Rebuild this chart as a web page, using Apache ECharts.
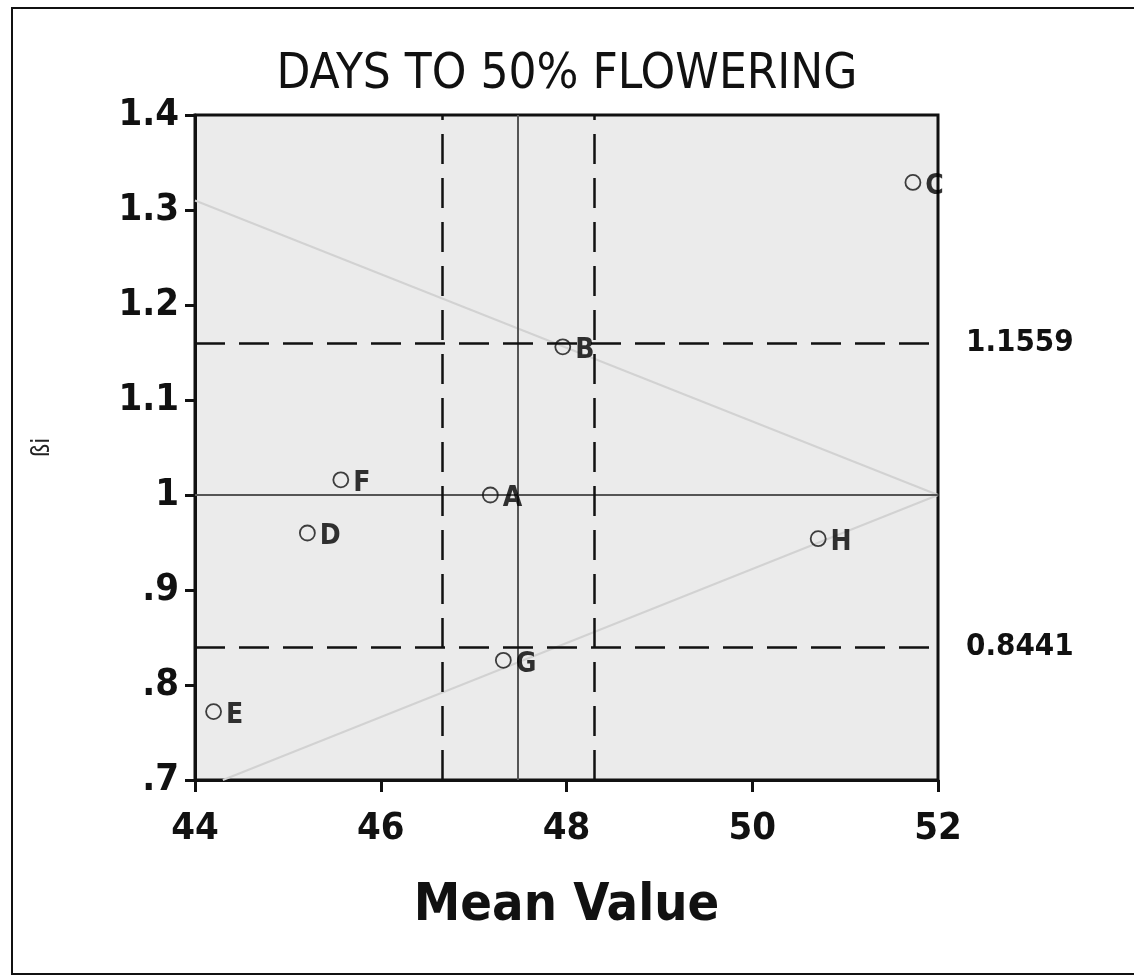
<!DOCTYPE html>
<html>
<head>
<meta charset="utf-8">
<script src="https://cdn.jsdelivr.net/npm/echarts@6/dist/echarts.min.js"></script>
<style>
  html, body { margin: 0; padding: 0; background: #fff; }
  #chart { width: 1134px; height: 978px; }
</style>
</head>
<body>
<div id="chart"></div>
<script>
// genotypes: mean value vs regression coefficient
var genotypes = ['A', 'B', 'C', 'D', 'E', 'F', 'G', 'H']
var meanValues = [47.18, 47.96, 51.73, 45.21, 44.2, 45.57, 47.32, 50.71]
var betaValues = [1.0, 1.156, 1.329, 0.96, 0.772, 1.016, 0.826, 0.954]

// reference lines
var betaLimits = [1.1559, 0.8441]
var betaMean = 1
var meanLimits = [46.66, 48.3]
var grandMean = 47.48

// faint lines seen in the background
var fadeLineA = [[44, 1.31], [52, 1.0]]
var fadeLineB = [[44.3, 0.7], [52, 1.0]]

var xTicks = [44, 46, 48, 50, 52]

var narrow = '"Liberation Sans Narrow", "DejaVu Sans Condensed", Arial, sans-serif'

var chart = echarts.init(document.getElementById('chart'))

function yLabel(v) {
  var r = Math.round(v * 10) / 10
  if (r === 1) return '1'
  if (r < 1) return '.' + Math.round(r * 10)
  return r.toFixed(1)
}

var dashStyle = { color: '#111', width: 2.5, type: [30, 14] }
var solidStyle = { color: '#555', width: 2, type: 'solid' }

var limitLabel = {
  show: true,
  position: 'end',
  distance: 28,
  fontFamily: narrow,
  fontSize: 31,
  fontWeight: 'bold',
  color: '#111'
}

chart.setOption({
  backgroundColor: '#fff',
  animation: false,
  title: {
    text: 'DAYS TO 50% FLOWERING',
    left: 'center',
    top: 46,
    textStyle: {
      fontFamily: narrow,
      fontSize: 49,
      fontWeight: 'normal',
      color: '#111'
    }
  },
  graphic: [{
    type: 'rect',
    shape: { x: 12, y: 8, width: 1140, height: 966 },
    style: { fill: null, stroke: '#111', lineWidth: 2 },
    silent: true
  }],
  grid: {
    left: 195,
    right: 196,
    top: 115,
    bottom: 198,
    show: true,
    backgroundColor: '#ebebeb',
    borderColor: '#111',
    borderWidth: 3
  },
  xAxis: {
    type: 'value',
    min: 44,
    max: 52,
    interval: 2,
    name: 'Mean Value',
    nameLocation: 'middle',
    nameGap: 100,
    nameTextStyle: {
      fontFamily: narrow,
      fontSize: 52,
      fontWeight: 'bold',
      color: '#111'
    },
    axisLine: { lineStyle: { color: '#111', width: 3 } },
    axisTick: { length: 12, lineStyle: { color: '#111', width: 3 } },
    axisLabel: {
      margin: 30,
      fontFamily: narrow,
      fontSize: 38,
      fontWeight: 'bold',
      color: '#111',
      formatter: function (v) { return xTicks.indexOf(v) >= 0 ? String(v) : '' }
    },
    splitLine: { show: false }
  },
  yAxis: {
    type: 'value',
    min: 0.7,
    max: 1.4,
    interval: 0.1,
    name: 'ßi',
    nameLocation: 'middle',
    nameGap: 140,
    nameRotate: 90,
    nameTextStyle: {
      fontFamily: narrow,
      fontSize: 24,
      color: '#222'
    },
    axisLine: { lineStyle: { color: '#111', width: 3 } },
    axisTick: { length: 10, lineStyle: { color: '#111', width: 3 } },
    axisLabel: {
      margin: 16,
      fontFamily: narrow,
      fontSize: 38,
      fontWeight: 'bold',
      color: '#111',
      formatter: yLabel
    },
    splitLine: { show: false }
  },
  series: [
    {
      type: 'line',
      data: fadeLineA,
      symbol: 'none',
      lineStyle: { color: '#d2d2d2', width: 2 },
      silent: true,
      z: 1
    },
    {
      type: 'line',
      data: fadeLineB,
      symbol: 'none',
      lineStyle: { color: '#d2d2d2', width: 2 },
      silent: true,
      z: 1
    },
    {
      type: 'scatter',
      data: meanValues.map(function (m, i) { return [m, betaValues[i], genotypes[i]] }),
      symbol: 'circle',
      symbolSize: 15,
      itemStyle: { color: 'rgba(0,0,0,0)', borderColor: '#111', borderWidth: 1.8 },
      label: {
        show: true,
        position: 'right',
        distance: 4,
        offset: [0, 4],
        formatter: function (p) { return p.data[2] },
        fontFamily: narrow,
        fontSize: 28,
        fontWeight: 'bold',
        color: '#000'
      },
      z: 5,
      markLine: {
        silent: true,
        symbol: ['none', 'none'],
        animation: false,
        label: { show: false },
        data: [
          { xAxis: grandMean, lineStyle: solidStyle },
          { yAxis: betaMean, lineStyle: solidStyle },
          { xAxis: meanLimits[0], lineStyle: dashStyle },
          { xAxis: meanLimits[1], lineStyle: dashStyle },
          {
            yAxis: betaLimits[0],
            lineStyle: dashStyle,
            label: Object.assign({ formatter: String(betaLimits[0]) }, limitLabel)
          },
          {
            yAxis: betaLimits[1],
            lineStyle: dashStyle,
            label: Object.assign({ formatter: String(betaLimits[1]) }, limitLabel)
          }
        ]
      }
    }
  ]
})
</script>
</body>
</html>
